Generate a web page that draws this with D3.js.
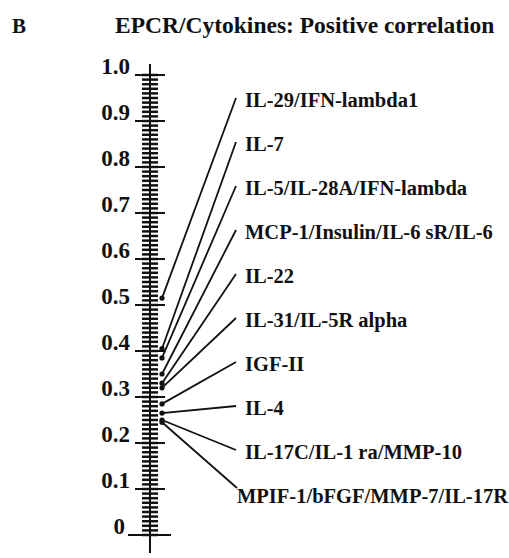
<!DOCTYPE html>
<html>
<head>
<meta charset="utf-8">
<script src="https://cdn.jsdelivr.net/npm/d3@7"></script>
<style>
  body { margin: 0; background: #fff; }
  svg { display: block; }
  text { font-family: "Liberation Serif", "Times New Roman", serif; font-weight: bold; fill: #111; }
</style>
</head>
<body>
<svg width="509" height="558"></svg>
<script>
// cytokines positively correlated with EPCR, top to bottom as labelled
var cytokines = [
  "IL-29/IFN-lambda1",
  "IL-7",
  "IL-5/IL-28A/IFN-lambda",
  "MCP-1/Insulin/IL-6 sR/IL-6",
  "IL-22",
  "IL-31/IL-5R alpha",
  "IGF-II",
  "IL-4",
  "IL-17C/IL-1 ra/MMP-10",
  "MPIF-1/bFGF/MMP-7/IL-17R"
];
// correlation coefficient each label points at
var correlations = [0.515, 0.405, 0.385, 0.35, 0.33, 0.32, 0.285, 0.265, 0.25, 0.245];

var majorTicks = [0, 0.1, 0.2, 0.3, 0.4, 0.5, 0.6, 0.7, 0.8, 0.9, 1.0];
var tickLabels = ["0", "0.1", "0.2", "0.3", "0.4", "0.5", "0.6", "0.7", "0.8", "0.9", "1.0"];

var svg = d3.select("svg"),
    width = +svg.attr("width"),
    height = +svg.attr("height");

var axisX = 150;
var y = d3.scaleLinear().domain([0, 1]).range([535, 75]);

// panel letter + title
svg.append("text").attr("x", 12).attr("y", 33)
    .style("font-size", "21px").text("B");
svg.append("text").attr("x", 115).attr("y", 33)
    .style("font-size", "23.5px").text("EPCR/Cytokines: Positive correlation");

var axis = svg.append("g").attr("class", "axis").attr("stroke", "#111");

// spine
axis.append("line")
    .attr("x1", axisX).attr("x2", axisX)
    .attr("y1", y(1) - 11).attr("y2", y(0) + 18)
    .attr("stroke-width", 2);

// minor ticks every 0.01
axis.selectAll("line.minor")
    .data(y.ticks(100))
  .enter().append("line")
    .attr("class", "minor")
    .attr("x1", axisX - 8).attr("x2", axisX + 8)
    .attr("y1", function(d) { return y(d); })
    .attr("y2", function(d) { return y(d); })
    .attr("stroke-width", 2.5);

// major ticks, the zero one wider
axis.selectAll("line.major")
    .data(majorTicks)
  .enter().append("line")
    .attr("class", "major")
    .attr("x1", function(d) { return d === 0 ? axisX - 22 : axisX - 15; })
    .attr("x2", function(d) { return d === 0 ? axisX + 21 : axisX + 15; })
    .attr("y1", function(d) { return y(d); })
    .attr("y2", function(d) { return y(d); })
    .attr("stroke-width", 2);

svg.append("g").selectAll("text")
    .data(majorTicks)
  .enter().append("text")
    .attr("text-anchor", "end")
    .attr("x", function(d) { return d === 0 ? axisX - 25 : axisX - 20; })
    .attr("y", function(d) { return y(d) - 1; })
    .style("font-size", "23px")
    .text(function(d, i) { return tickLabels[i]; });

// label rows, evenly spaced down the right side
var row = d3.scalePoint().domain(cytokines).range([107, 503]);

var labels = svg.append("g").selectAll("g")
    .data(cytokines)
  .enter().append("g");

labels.append("text")
    .attr("y", function(d) { return row(d); })
    .style("font-size", "20.5px")
    .text(function(d) { return d; })
    .each(function() {
      var w = this.getComputedTextLength();
      var x = Math.min(245, width - 1 - w);
      d3.select(this).attr("x", x);
      this.__shifted = x < 245;
      this.__x = x;
    });

labels.each(function(d, i) {
  var t = d3.select(this).select("text").node();
  var ex = t.__shifted ? t.__x : t.__x - 9;
  var ey = row(d) - (t.__shifted ? 15 : 9);
  var sx = axisX + 12, sy = y(correlations[i]);
  d3.select(this).insert("line", "text")
      .attr("x1", sx).attr("y1", sy)
      .attr("x2", ex).attr("y2", ey)
      .attr("stroke", "#111").attr("stroke-width", 1.8);
  d3.select(this).append("circle")
      .attr("cx", sx).attr("cy", sy).attr("r", 2.6)
      .attr("fill", "#111");
});
</script>
</body>
</html>
